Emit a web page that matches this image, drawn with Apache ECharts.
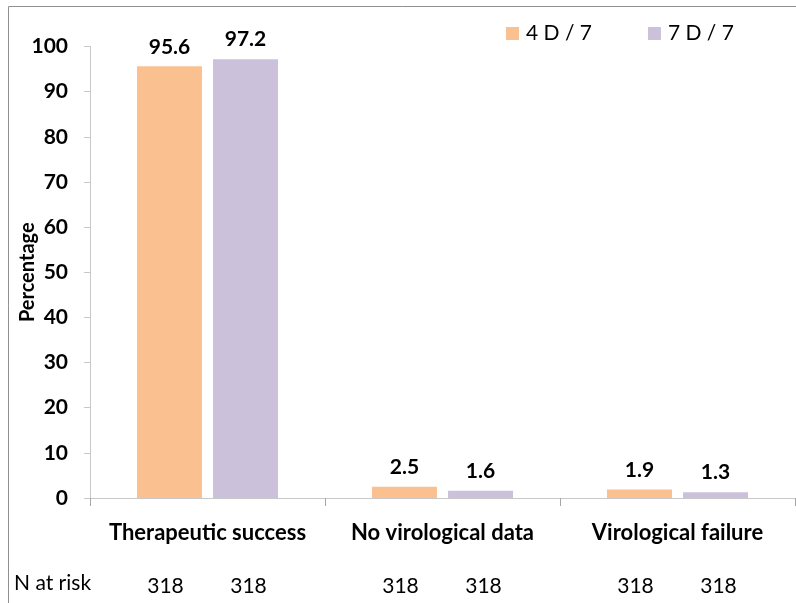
<!DOCTYPE html>
<html>
<head>
<meta charset="utf-8">
<script src="https://cdn.jsdelivr.net/npm/echarts@6/dist/echarts.min.js"></script>
<style>
  html, body { margin: 0; padding: 0; background: #fff; }
  #chart { width: 796px; height: 603px; }
</style>
</head>
<body>
<div id="chart"></div>
<script>
// chart data
var categories = ['Therapeutic success', 'No virological data', 'Virological failure'];
var seriesNames = ['4 D / 7', '7 D / 7'];
var values4d = [95.6, 2.5, 1.9];
var values7d = [97.2, 1.6, 1.3];
var nAtRisk4d = [318, 318, 318];
var nAtRisk7d = [318, 318, 318];
var yTicks = [0, 10, 20, 30, 40, 50, 60, 70, 80, 90, 100];

var FONT = 'Lato';
var chart = echarts.init(document.getElementById('chart'));

chart.setOption({
  animation: false,
  textStyle: { fontFamily: FONT },
  grid: { left: 90, right: 1, top: 46.5, bottom: 105, containLabel: false, outerBoundsMode: 'none' },
  legend: {
    data: seriesNames,
    left: 506, top: 23, padding: 0,
    itemWidth: 13, itemHeight: 13, itemGap: 56,
    icon: 'rect',
    textStyle: { fontFamily: FONT, fontSize: 21, color: '#000', padding: [0, 0, 0, 2] }
  },
  xAxis: {
    type: 'category',
    data: categories,
    axisLine: { lineStyle: { color: '#C8C8C8' } },
    axisTick: { show: true, length: 8, interval: 0, lineStyle: { color: '#A6A6A6' } },
    axisLabel: { margin: 24, fontFamily: FONT, fontWeight: 'bold', fontSize: 22, color: '#000', interval: 0 }
  },
  yAxis: {
    type: 'value',
    min: yTicks[0], max: yTicks[yTicks.length - 1], interval: 10,
    name: 'Percentage',
    nameLocation: 'middle',
    nameGap: 52,
    nameMoveOverlap: false,
    nameTextStyle: { fontFamily: FONT, fontWeight: 'bold', fontSize: 20, color: '#000' },
    axisLine: { show: true, lineStyle: { color: '#C8C8C8' } },
    axisTick: { show: true, length: 6, lineStyle: { color: '#C8C8C8' } },
    splitLine: { show: false },
    axisLabel: { margin: 22, fontFamily: FONT, fontWeight: 'bold', fontSize: 21, color: '#000' }
  },
  series: [
    {
      name: seriesNames[0], type: 'bar', data: values4d,
      barWidth: 65, barGap: '17%',
      itemStyle: { color: '#FAC090' },
      label: { show: true, position: 'top', distance: 9, fontFamily: FONT, fontWeight: 'bold', fontSize: 21, color: '#000' }
    },
    {
      name: seriesNames[1], type: 'bar', data: values7d,
      barWidth: 65,
      itemStyle: { color: '#CCC1DA' },
      label: { show: true, position: 'top', distance: 9, fontFamily: FONT, fontWeight: 'bold', fontSize: 21, color: '#000' }
    }
  ]
});

// frame and "N at risk" row, placed from the category axis
var graphics = [
  { type: 'rect', shape: { x: 8.5, y: 6.5, width: 900, height: 800 }, style: { fill: 'none', stroke: '#909090', lineWidth: 1 }, silent: true },
  { type: 'text', left: 14, top: 573, style: { text: 'N at risk', fontFamily: FONT, fontSize: 21, fill: '#000' } }
];
categories.forEach(function (c, i) {
  var cx = chart.convertToPixel({ xAxisIndex: 0 }, c);
  [[nAtRisk4d[i], -42], [nAtRisk7d[i], 41]].forEach(function (p) {
    graphics.push({
      type: 'text', x: cx + p[1], y: 586,
      style: { text: String(p[0]), fontFamily: FONT, fontSize: 21, fill: '#000', align: 'center', verticalAlign: 'middle' }
    });
  });
});
chart.setOption({ graphic: graphics });
</script>
</body>
</html>
